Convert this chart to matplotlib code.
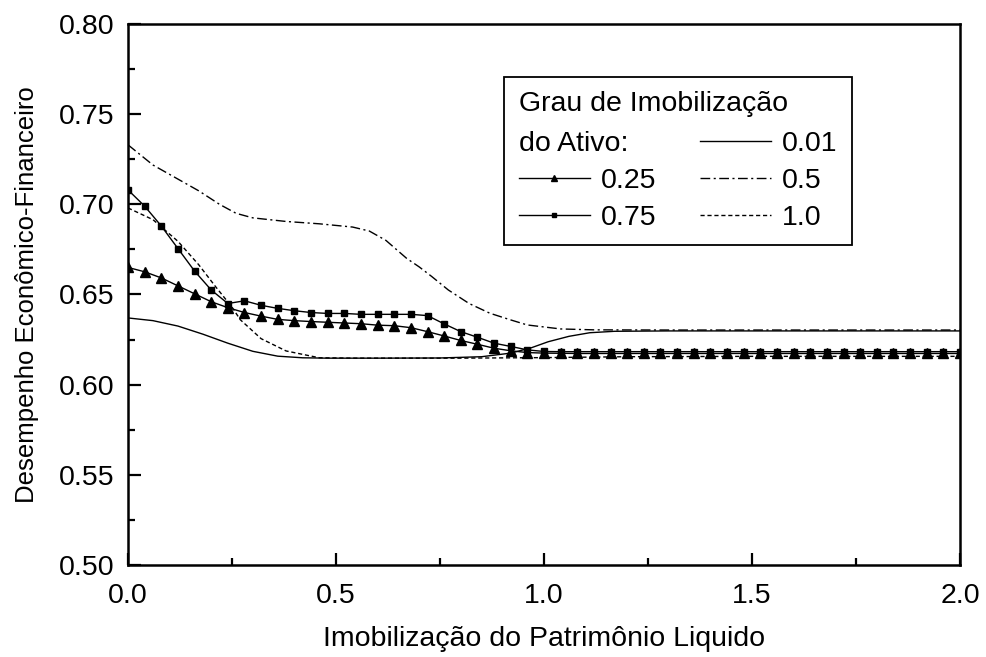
import numpy as np
import matplotlib
matplotlib.use("Agg")
import matplotlib.pyplot as plt
from matplotlib.lines import Line2D

plt.rcParams['font.family'] = ['Liberation Sans', 'DejaVu Sans']

# series with markers (every 0.04)
x_marked = np.linspace(0.0, 2.0, 51)
y_025 = [0.665, 0.6626, 0.6592, 0.6548, 0.6504, 0.646, 0.6427, 0.640, 0.638, 0.6362,
         0.6355, 0.635, 0.6346, 0.6342, 0.6338, 0.633, 0.6327, 0.6316, 0.6294, 0.627,
         0.6245, 0.6224, 0.6202, 0.6188, 0.6178, 0.6175, 0.6174, 0.6173, 0.6173, 0.6173,
         0.6173, 0.6173, 0.6173, 0.6173, 0.6173, 0.6173, 0.6173, 0.6173, 0.6173, 0.6173,
         0.6173, 0.6173, 0.6173, 0.6173, 0.6173, 0.6173, 0.6173, 0.6173, 0.6173, 0.6173,
         0.6173]
y_075 = [0.708, 0.699, 0.688, 0.6755, 0.663, 0.6525, 0.645, 0.6465, 0.644, 0.6423,
         0.641, 0.640, 0.6395, 0.6395, 0.639, 0.639, 0.639, 0.639, 0.6383, 0.6337,
         0.6294, 0.6263, 0.623, 0.6212, 0.6193, 0.6184, 0.6183, 0.6183, 0.6183, 0.6183,
         0.6183, 0.6183, 0.6183, 0.6183, 0.6183, 0.6183, 0.6183, 0.6183, 0.6183, 0.6183,
         0.6183, 0.6183, 0.6183, 0.6183, 0.6183, 0.6183, 0.6183, 0.6183, 0.6183, 0.6183,
         0.6183]

# series without markers
x_001 = [0.0, 0.06, 0.12, 0.18, 0.24, 0.30, 0.36, 0.42, 0.48, 0.6, 0.75, 0.85, 0.92,
         0.97, 1.01, 1.06, 1.11, 1.17, 1.3, 1.6, 2.0]
y_001 = [0.637, 0.6355, 0.6325, 0.628, 0.623, 0.6185, 0.6158, 0.6149, 0.6147, 0.6147,
         0.6148, 0.6155, 0.6175, 0.6205, 0.6238, 0.6268, 0.6288, 0.6296, 0.6298, 0.6298,
         0.6298]

x_05 = [0.0, 0.06, 0.12, 0.17, 0.22, 0.26, 0.30, 0.38, 0.46, 0.54, 0.58, 0.62, 0.67,
        0.70, 0.73, 0.77, 0.82, 0.87, 0.92, 0.96, 1.04, 1.12, 1.3, 1.6, 2.0]
y_05 = [0.733, 0.7218, 0.714, 0.7075, 0.700, 0.695, 0.6925, 0.6905, 0.6892, 0.6874,
        0.6852, 0.680, 0.670, 0.6653, 0.660, 0.6525, 0.645, 0.6396, 0.6359, 0.6331,
        0.6309, 0.6304, 0.6303, 0.6303, 0.6303]

x_10 = [0.0, 0.06, 0.12, 0.17, 0.21, 0.25, 0.27, 0.32, 0.38, 0.46, 0.55, 0.8, 1.0,
        1.2, 1.5, 2.0]
y_10 = [0.698, 0.6915, 0.6795, 0.6665, 0.6545, 0.643, 0.636, 0.6255, 0.6187, 0.6149,
        0.6147, 0.6147, 0.6150, 0.6155, 0.6157, 0.6157]

fs = 20.5
fig = plt.figure(figsize=(9.86, 6.57), dpi=100)
ax = fig.add_axes([128 / 986, 1 - 565 / 657, (960 - 128) / 986, (565 - 24) / 657])

lw = 1.0
l001, = ax.plot(x_001, y_001, color='black', lw=lw, label='0.01')
l025, = ax.plot(x_marked, y_025, color='black', lw=lw, marker='^', ms=6.5, label='0.25')
l05, = ax.plot(x_05, y_05, color='black', lw=lw, dashes=(7, 2.5, 1.5, 2.5), label='0.5')
l075, = ax.plot(x_marked, y_075, color='black', lw=lw, marker='s', ms=5, label='0.75')
l10, = ax.plot(x_10, y_10, color='black', lw=lw, dashes=(3, 2), label='1.0')

ax.set_xlim(0, 2.0)
ax.set_ylim(0.50, 0.80)
ax.set_xticks([0.0, 0.5, 1.0, 1.5, 2.0])
ax.set_xticks([0.25, 0.75, 1.25, 1.75], minor=True)
ax.set_yticks([0.50, 0.55, 0.60, 0.65, 0.70, 0.75, 0.80])
ax.set_yticks([0.525, 0.575, 0.625, 0.675, 0.725, 0.775], minor=True)
ax.xaxis.set_major_formatter(plt.FormatStrFormatter('%.1f'))
ax.yaxis.set_major_formatter(plt.FormatStrFormatter('%.2f'))
ax.tick_params(which='both', direction='in', top=False, right=False, width=1.6,
               labelsize=fs)
ax.tick_params(which='major', length=9)
ax.tick_params(which='minor', length=5)
ax.tick_params(axis='x', pad=13)
ax.tick_params(axis='y', pad=10)
for s in ax.spines.values():
    s.set_linewidth(1.8)

ax.set_xlabel('Imobilização do Patrimônio Liquido', fontsize=fs, labelpad=12)
ax.set_ylabel('Desempenho Econômico-Financeiro', fontsize=18.5, labelpad=14)

blank = Line2D([], [], color='none')
handles = [blank, l025, l075, l001, l05, l10]
labels = ['', '0.25', '0.75', '0.01', '0.5', '1.0']
leg = ax.legend(handles, labels, ncol=2, title='Grau de Imobilização',
                title_fontsize=fs, fontsize=fs, alignment='left',
                loc='upper right', bbox_to_anchor=(0.870, 0.902), borderaxespad=0,
                frameon=True, fancybox=False, edgecolor='black', framealpha=1,
                handlelength=2.5, handletextpad=0.4, columnspacing=1.5,
                labelspacing=0.38, markerscale=0.7, borderpad=0.5)
leg.get_frame().set_linewidth(1.3)
leg._legend_box.sep = 10

# "do Ativo:" sits on the first row, aligned with the title
fig.canvas.draw()
tb = leg.get_title().get_window_extent()
rb = leg.get_texts()[3].get_window_extent()
px, py = fig.transFigure.inverted().transform((tb.x0, (rb.y0 + rb.y1) / 2))
fig.text(px, py, 'do Ativo:', fontsize=fs, va='center', ha='left')

fig.savefig('out.png', dpi=100)
